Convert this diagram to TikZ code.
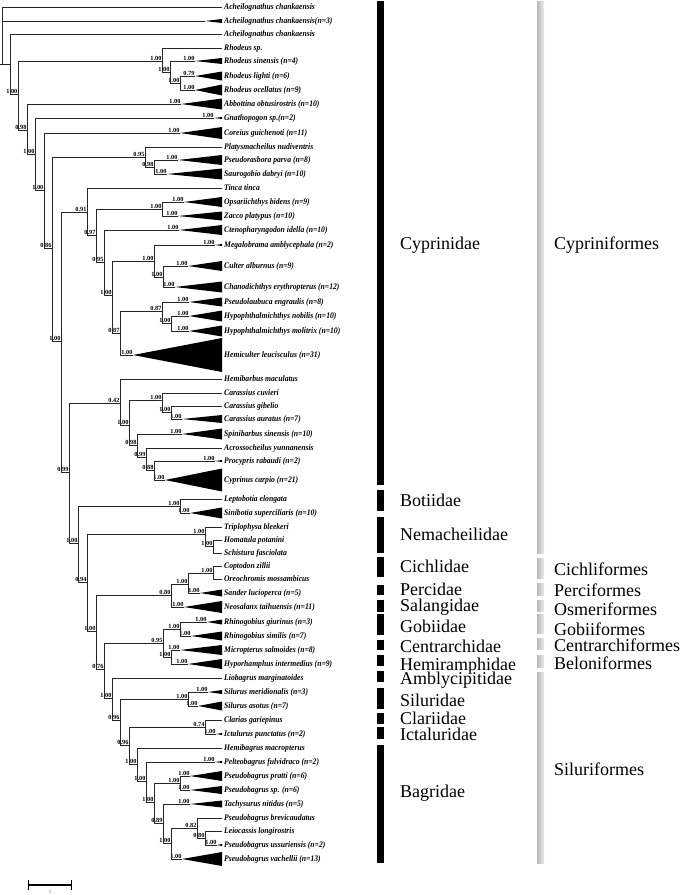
\documentclass[tikz,border=0pt]{standalone}
\usepackage{fontspec}
\setmainfont{Liberation Serif}
\newfontfamily\taxfont[FakeStretch=0.9]{Liberation Serif}
\begin{document}
\begin{tikzpicture}[x=1pt,y=-1pt,
  br/.style={line width=0.9pt, black!85},
  taxon/.style={anchor=west, inner xsep=2pt, inner ysep=0pt, text height=5.7pt, text depth=0.6pt, font=\fontsize{8.5}{9}\selectfont\taxfont\bfseries\itshape},
  supp/.style={anchor=south east, inner sep=0.4pt, font=\fontsize{6.3}{6.5}\selectfont\bfseries},
  fambar/.style={fill=black},
  ordbar/.style={left color=gray!55, right color=gray!15},
  grp/.style={anchor=base west, inner sep=0pt, font=\fontsize{18}{20}\selectfont}]
\useasboundingbox (0,0) rectangle (685,895);

\node[taxon] (t1) at (222,7) {Acheilognathus chankaensis};
\node[taxon] (t2) at (222,21) {Acheilognathus chankaensis(n=3)};
\coordinate (a2) at (205,21);
\fill (a2) -- ([yshift=2pt]t2.west) -- ([yshift=-2pt]t2.west) -- cycle;
\node[taxon] (t3) at (222,34) {Acheilognathus chankaensis};
\node[taxon] (t4) at (222,48) {Rhodeus sp.};
\node[taxon] (t5) at (222,61) {Rhodeus sinensis (n=4)};
\coordinate (a5) at (195,61); \node[supp] (a5l) at (a5) {1.00};
\fill (a5) -- ([yshift=3pt]t5.west) -- ([yshift=-3pt]t5.west) -- cycle;
\node[taxon] (t6) at (222,76) {Rhodeus lighti (n=6)};
\coordinate (a6) at (195,76); \node[supp] (a6l) at (a6) {0.79};
\fill (a6) -- ([yshift=4.5pt]t6.west) -- ([yshift=-4.5pt]t6.west) -- cycle;
\node[taxon] (t7) at (222,90) {Rhodeus ocellatus (n=9)};
\coordinate (a7) at (195,90); \node[supp] (a7l) at (a7) {1.00};
\fill (a7) -- ([yshift=5.5pt]t7.west) -- ([yshift=-5.5pt]t7.west) -- cycle;
\node[taxon] (t8) at (222,104) {Abbottina obtusirostris (n=10)};
\coordinate (a8) at (181,104); \node[supp] (a8l) at (a8) {1.00};
\fill (a8) -- ([yshift=5.5pt]t8.west) -- ([yshift=-5.5pt]t8.west) -- cycle;
\node[taxon] (t9) at (222,118) {Gnathopogon sp.(n=2)};
\coordinate (a9) at (214,118); \node[supp] (a9l) at (a9) {1.00};
\fill (a9) -- ([yshift=1pt]t9.west) -- ([yshift=-1pt]t9.west) -- cycle;
\node[taxon] (t10) at (222,133) {Coreius guichenoti (n=11)};
\coordinate (a10) at (180,133); \node[supp] (a10l) at (a10) {1.00};
\fill (a10) -- ([yshift=6pt]t10.west) -- ([yshift=-6pt]t10.west) -- cycle;
\node[taxon] (t11) at (222,147) {Platysmacheilus nudiventris};
\node[taxon] (t12) at (222,160) {Pseudorasbora parva (n=8)};
\coordinate (a12) at (178,160); \node[supp] (a12l) at (a12) {1.00};
\fill (a12) -- ([yshift=5pt]t12.west) -- ([yshift=-5pt]t12.west) -- cycle;
\node[taxon] (t13) at (222,174) {Saurogobio dabryi (n=10)};
\coordinate (a13) at (167,174); \node[supp] (a13l) at (a13) {1.00};
\fill (a13) -- ([yshift=5.5pt]t13.west) -- ([yshift=-5.5pt]t13.west) -- cycle;
\node[taxon] (t14) at (222,188) {Tinca tinca};
\node[taxon] (t15) at (222,202) {Opsariichthys bidens (n=9)};
\coordinate (a15) at (184,202); \node[supp] (a15l) at (a15) {1.00};
\fill (a15) -- ([yshift=5pt]t15.west) -- ([yshift=-5pt]t15.west) -- cycle;
\node[taxon] (t16) at (222,216) {Zacco platypus (n=10)};
\coordinate (a16) at (178,216); \node[supp] (a16l) at (a16) {1.00};
\fill (a16) -- ([yshift=4.5pt]t16.west) -- ([yshift=-4.5pt]t16.west) -- cycle;
\node[taxon] (t17) at (222,230) {Ctenopharyngodon idella (n=10)};
\coordinate (a17) at (179,230); \node[supp] (a17l) at (a17) {1.00};
\fill (a17) -- ([yshift=5pt]t17.west) -- ([yshift=-5pt]t17.west) -- cycle;
\node[taxon] (t18) at (222,245) {Megalobrama amblycephala (n=2)};
\coordinate (a18) at (215,245); \node[supp] (a18l) at (a18) {1.00};
\fill (a18) -- ([yshift=1pt]t18.west) -- ([yshift=-1pt]t18.west) -- cycle;
\node[taxon] (t19) at (222,266) {Culter alburnus (n=9)};
\coordinate (a19) at (188,266); \node[supp] (a19l) at (a19) {1.00};
\fill (a19) -- ([yshift=5pt]t19.west) -- ([yshift=-5pt]t19.west) -- cycle;
\node[taxon] (t20) at (222,287) {Chanodichthys erythropterus (n=12)};
\coordinate (a20) at (175,287); \node[supp] (a20l) at (a20) {1.00};
\fill (a20) -- ([yshift=5.5pt]t20.west) -- ([yshift=-5.5pt]t20.west) -- cycle;
\node[taxon] (t21) at (222,302) {Pseudolaubuca engraulis (n=8)};
\coordinate (a21) at (189,302); \node[supp] (a21l) at (a21) {1.00};
\fill (a21) -- ([yshift=4.5pt]t21.west) -- ([yshift=-4.5pt]t21.west) -- cycle;
\node[taxon] (t22) at (222,316) {Hypophthalmichthys nobilis (n=10)};
\coordinate (a22) at (189,316); \node[supp] (a22l) at (a22) {1.00};
\fill (a22) -- ([yshift=5.5pt]t22.west) -- ([yshift=-5.5pt]t22.west) -- cycle;
\node[taxon] (t23) at (222,331) {Hypophthalmichthys molitrix (n=10)};
\coordinate (a23) at (189,331); \node[supp] (a23l) at (a23) {1.00};
\fill (a23) -- ([yshift=5.5pt]t23.west) -- ([yshift=-5.5pt]t23.west) -- cycle;
\node[taxon] (t24) at (222,355) {Hemiculter leucisculus (n=31)};
\coordinate (a24) at (133,355); \node[supp] (a24l) at (a24) {1.00};
\fill (a24) -- ([yshift=17pt]t24.west) -- ([yshift=-17pt]t24.west) -- cycle;
\node[taxon] (t25) at (222,379) {Hemibarbus maculatus};
\node[taxon] (t26) at (222,393) {Carassius cuvieri};
\node[taxon] (t27) at (222,406) {Carassius gibelio};
\node[taxon] (t28) at (222,419) {Carassius auratus (n=7)};
\coordinate (a28) at (182,419); \node[supp] (a28l) at (a28) {1.00};
\fill (a28) -- ([yshift=4pt]t28.west) -- ([yshift=-4pt]t28.west) -- cycle;
\node[taxon] (t29) at (222,434) {Spinibarbus sinensis (n=10)};
\coordinate (a29) at (182,434); \node[supp] (a29l) at (a29) {1.00};
\fill (a29) -- ([yshift=5.5pt]t29.west) -- ([yshift=-5.5pt]t29.west) -- cycle;
\node[taxon] (t30) at (222,448) {Acrossocheilus yunnanensis};
\node[taxon] (t31) at (222,461) {Procypris rabaudi (n=2)};
\coordinate (a31) at (215,461); \node[supp] (a31l) at (a31) {1.00};
\fill (a31) -- ([yshift=1pt]t31.west) -- ([yshift=-1pt]t31.west) -- cycle;
\node[taxon] (t32) at (222,480) {Cyprinus carpio (n=21)};
\coordinate (a32) at (165,480); \node[supp] (a32l) at (a32) {1.00};
\fill (a32) -- ([yshift=11.5pt]t32.west) -- ([yshift=-11.5pt]t32.west) -- cycle;
\node[taxon] (t33) at (222,499) {Leptobotia elongata};
\node[taxon] (t34) at (222,513) {Sinibotia superciliaris (n=10)};
\coordinate (a34) at (190,513); \node[supp] (a34l) at (a34) {1.00};
\fill (a34) -- ([yshift=5.5pt]t34.west) -- ([yshift=-5.5pt]t34.west) -- cycle;
\node[taxon] (t35) at (222,527) {Triplophysa bleekeri};
\node[taxon] (t36) at (222,540) {Homatula potanini};
\node[taxon] (t37) at (222,553) {Schistura fasciolata};
\node[taxon] (t38) at (222,566) {Coptodon zillii};
\node[taxon] (t39) at (222,579) {Oreochromis mossambicus};
\node[taxon] (t40) at (222,593) {Sander lucioperca (n=5)};
\coordinate (a40) at (200,593); \node[supp] (a40l) at (a40) {1.00};
\fill (a40) -- ([yshift=3.5pt]t40.west) -- ([yshift=-3.5pt]t40.west) -- cycle;
\node[taxon] (t41) at (222,607) {Neosalanx taihuensis (n=11)};
\coordinate (a41) at (184,607); \node[supp] (a41l) at (a41) {1.00};
\fill (a41) -- ([yshift=6pt]t41.west) -- ([yshift=-6pt]t41.west) -- cycle;
\node[taxon] (t42) at (222,622) {Rhinogobius giurinus (n=3)};
\coordinate (a42) at (207,622); \node[supp] (a42l) at (a42) {1.00};
\fill (a42) -- ([yshift=2.5pt]t42.west) -- ([yshift=-2.5pt]t42.west) -- cycle;
\node[taxon] (t43) at (222,636) {Rhinogobius similis (n=7)};
\coordinate (a43) at (191,636); \node[supp] (a43l) at (a43) {1.00};
\fill (a43) -- ([yshift=4.5pt]t43.west) -- ([yshift=-4.5pt]t43.west) -- cycle;
\node[taxon] (t44) at (222,650) {Micropterus salmoides (n=8)};
\coordinate (a44) at (180,650); \node[supp] (a44l) at (a44) {1.00};
\fill (a44) -- ([yshift=5pt]t44.west) -- ([yshift=-5pt]t44.west) -- cycle;
\node[taxon] (t45) at (222,664) {Hyporhamphus intermedius (n=9)};
\coordinate (a45) at (188,664); \node[supp] (a45l) at (a45) {1.00};
\fill (a45) -- ([yshift=5pt]t45.west) -- ([yshift=-5pt]t45.west) -- cycle;
\node[taxon] (t46) at (222,678) {Liobagrus marginatoides};
\node[taxon] (t47) at (222,692) {Silurus meridionalis (n=3)};
\coordinate (a47) at (208,692); \node[supp] (a47l) at (a47) {1.00};
\fill (a47) -- ([yshift=2pt]t47.west) -- ([yshift=-2pt]t47.west) -- cycle;
\node[taxon] (t48) at (222,706) {Silurus asotus (n=7)};
\coordinate (a48) at (198,706); \node[supp] (a48l) at (a48) {1.00};
\fill (a48) -- ([yshift=4.5pt]t48.west) -- ([yshift=-4.5pt]t48.west) -- cycle;
\node[taxon] (t49) at (222,720) {Clarias gariepinus};
\node[taxon] (t50) at (222,734) {Ictalurus punctatus (n=2)};
\coordinate (a50) at (216,734); \node[supp] (a50l) at (a50) {1.00};
\fill (a50) -- ([yshift=1pt]t50.west) -- ([yshift=-1pt]t50.west) -- cycle;
\node[taxon] (t51) at (222,748) {Hemibagrus macropterus};
\node[taxon] (t52) at (222,762) {Pelteobagrus fulvidraco (n=2)};
\coordinate (a52) at (215,762); \node[supp] (a52l) at (a52) {1.00};
\fill (a52) -- ([yshift=1pt]t52.west) -- ([yshift=-1pt]t52.west) -- cycle;
\node[taxon] (t53) at (222,776) {Pseudobagrus pratti (n=6)};
\coordinate (a53) at (190,776); \node[supp] (a53l) at (a53) {1.00};
\fill (a53) -- ([yshift=5pt]t53.west) -- ([yshift=-5pt]t53.west) -- cycle;
\node[taxon] (t54) at (222,790) {Pseudobagrus sp. (n=6)};
\coordinate (a54) at (190,790); \node[supp] (a54l) at (a54) {1.00};
\fill (a54) -- ([yshift=4pt]t54.west) -- ([yshift=-4pt]t54.west) -- cycle;
\node[taxon] (t55) at (222,804) {Tachysurus nitidus (n=5)};
\coordinate (a55) at (190,804); \node[supp] (a55l) at (a55) {1.00};
\fill (a55) -- ([yshift=3.5pt]t55.west) -- ([yshift=-3.5pt]t55.west) -- cycle;
\node[taxon] (t56) at (222,818) {Pseudobagrus brevicaudatus};
\node[taxon] (t57) at (222,831) {Leiocassis longirostris};
\node[taxon] (t58) at (222,845) {Pseudobagrus ussuriensis (n=2)};
\coordinate (a58) at (217,845); \node[supp] (a58l) at (a58) {1.00};
\fill (a58) -- ([yshift=1pt]t58.west) -- ([yshift=-1pt]t58.west) -- cycle;
\node[taxon] (t59) at (222,859) {Pseudobagrus vachellii (n=13)};
\coordinate (a59) at (182,859); \node[supp] (a59l) at (a59) {1.00};
\fill (a59) -- ([yshift=7pt]t59.west) -- ([yshift=-7pt]t59.west) -- cycle;

\coordinate (rt) at (0,64);
\coordinate (r0) at (2,64);
\coordinate (n1) at (10,64);
\coordinate (n2) at (18,94); \node[supp] (n2l) at (n2) {1.00};
\coordinate (rh) at (162,61); \node[supp] (rhl) at (rh) {1.00};
\coordinate (rh2) at (170,72); \node[supp] (rh2l) at (rh2) {1.00};
\coordinate (rh3) at (180,83); \node[supp] (rh3l) at (rh3) {1.00};
\coordinate (n3) at (27,130); \node[supp] (n3l) at (n3) {0.98};
\coordinate (n4) at (35,154); \node[supp] (n4l) at (n4) {1.00};
\coordinate (n5) at (44,190); \node[supp] (n5l) at (n5) {1.00};
\coordinate (n6) at (52,248); \node[supp] (n6l) at (n6) {0.86};
\coordinate (pl1) at (145,157); \node[supp] (pl1l) at (pl1) {0.95};
\coordinate (pl2) at (154,167); \node[supp] (pl2l) at (pl2) {0.98};
\coordinate (n7) at (61,341); \node[supp] (n7l) at (n7) {1.00};
\coordinate (n8) at (87,212); \node[supp] (n8l) at (n8) {0.91};
\coordinate (n8b) at (96,235); \node[supp] (n8bl) at (n8b) {0.97};
\coordinate (op) at (162,209); \node[supp] (opl) at (op) {1.00};
\coordinate (n8c) at (104,262); \node[supp] (n8cl) at (n8c) {0.95};
\coordinate (n8d) at (112,295); \node[supp] (n8dl) at (n8d) {1.00};
\coordinate (mg) at (154,261); \node[supp] (mgl) at (mg) {1.00};
\coordinate (mg2) at (163,277); \node[supp] (mg2l) at (mg2) {1.00};
\coordinate (n8e) at (120,333); \node[supp] (n8el) at (n8e) {0.87};
\coordinate (pq) at (162,311); \node[supp] (pql) at (pq) {0.87};
\coordinate (pq2) at (171,323); \node[supp] (pq2l) at (pq2) {1.00};
\coordinate (n9) at (69,472); \node[supp] (n9l) at (n9) {0.99};
\coordinate (hb) at (120,403); \node[supp] (hbl) at (hb) {0.42};
\coordinate (hb2) at (129,425); \node[supp] (hb2l) at (hb2) {1.00};
\coordinate (ca) at (162,400); \node[supp] (cal) at (ca) {1.00};
\coordinate (ca2) at (171,412); \node[supp] (ca2l) at (ca2) {1.00};
\coordinate (hb3) at (137,445); \node[supp] (hb3l) at (hb3) {0.98};
\coordinate (hb4) at (146,457); \node[supp] (hb4l) at (hb4) {0.99};
\coordinate (hb5) at (154,470); \node[supp] (hb5l) at (hb5) {0.88};
\coordinate (n10) at (78,543); \node[supp] (n10l) at (n10) {1.00};
\coordinate (bo) at (180,506); \node[supp] (bol) at (bo) {1.00};
\coordinate (n11) at (87,582); \node[supp] (n11l) at (n11) {0.94};
\coordinate (ne) at (205,534); \node[supp] (nel) at (ne) {1.00};
\coordinate (ne2) at (213,546); \node[supp] (ne2l) at (ne2) {1.00};
\coordinate (n12) at (96,631); \node[supp] (n12l) at (n12) {1.00};
\coordinate (pc) at (171,595); \node[supp] (pcl) at (pc) {0.80};
\coordinate (pc2) at (188,584); \node[supp] (pc2l) at (pc2) {1.00};
\coordinate (ci) at (213,573); \node[supp] (cil) at (ci) {1.00};
\coordinate (n13) at (104,669); \node[supp] (n13l) at (n13) {0.76};
\coordinate (gb) at (163,643); \node[supp] (gbl) at (gb) {0.95};
\coordinate (gb1) at (180,629); \node[supp] (gb1l) at (gb1) {1.00};
\coordinate (gb2) at (171,657); \node[supp] (gb2l) at (gb2) {1.00};
\coordinate (n14) at (112,698); \node[supp] (n14l) at (n14) {1.00};
\coordinate (n15) at (120,720); \node[supp] (n15l) at (n15) {0.96};
\coordinate (si) at (188,699); \node[supp] (sil) at (si) {1.00};
\coordinate (n16) at (129,745); \node[supp] (n16l) at (n16) {0.96};
\coordinate (cl) at (205,727); \node[supp] (cll) at (cl) {0.74};
\coordinate (n17) at (137,764); \node[supp] (n17l) at (n17) {1.00};
\coordinate (n18) at (146,781); \node[supp] (n18l) at (n18) {1.00};
\coordinate (n19) at (154,802); \node[supp] (n19l) at (n19) {1.00};
\coordinate (pb) at (180,783); \node[supp] (pbl) at (pb) {1.00};
\coordinate (n20) at (163,823); \node[supp] (n20l) at (n20) {0.89};
\coordinate (n21) at (171,843); \node[supp] (n21l) at (n21) {1.00};
\coordinate (n22) at (197,828); \node[supp] (n22l) at (n22) {0.82};
\coordinate (n23) at (205,838); \node[supp] (n23l) at (n23) {0.80};

\draw[br] (rt) -- (r0) (r0) |- (t1.west) (r0) |- (a2) (r0) -- (n1);
\draw[br] (n1) |- (t3.west) (n1) |- (n2);
\draw[br] (n2) |- (rh) (n2) |- (n3);
\draw[br] (rh) |- (t4.west) (rh) |- (rh2);
\draw[br] (rh2) |- (a5) (rh2) |- (rh3);
\draw[br] (rh3) |- (a6) (rh3) |- (a7);
\draw[br] (n3) |- (a8) (n3) |- (n4);
\draw[br] (n4) |- (a9) (n4) |- (n5);
\draw[br] (n5) |- (a10) (n5) |- (n6);
\draw[br] (n6) |- (pl1) (n6) |- (n7);
\draw[br] (pl1) |- (t11.west) (pl1) |- (pl2);
\draw[br] (pl2) |- (a12) (pl2) |- (a13);
\draw[br] (n7) |- (n8) (n7) |- (n9);
\draw[br] (n8) |- (t14.west) (n8) |- (n8b);
\draw[br] (n8b) |- (op) (n8b) |- (n8c);
\draw[br] (op) |- (a15) (op) |- (a16);
\draw[br] (n8c) |- (a17) (n8c) |- (n8d);
\draw[br] (n8d) |- (mg) (n8d) |- (n8e);
\draw[br] (mg) |- (a18) (mg) |- (mg2);
\draw[br] (mg2) |- (a19) (mg2) |- (a20);
\draw[br] (n8e) |- (pq) (n8e) |- (a24);
\draw[br] (pq) |- (a21) (pq) |- (pq2);
\draw[br] (pq2) |- (a22) (pq2) |- (a23);
\draw[br] (n9) |- (hb) (n9) |- (n10);
\draw[br] (hb) |- (t25.west) (hb) |- (hb2);
\draw[br] (hb2) |- (ca) (hb2) |- (hb3);
\draw[br] (ca) |- (t26.west) (ca) |- (ca2);
\draw[br] (ca2) |- (t27.west) (ca2) |- (a28);
\draw[br] (hb3) |- (a29) (hb3) |- (hb4);
\draw[br] (hb4) |- (t30.west) (hb4) |- (hb5);
\draw[br] (hb5) |- (a31) (hb5) |- (a32);
\draw[br] (n10) |- (bo) (n10) |- (n11);
\draw[br] (bo) |- (t33.west) (bo) |- (a34);
\draw[br] (n11) |- (ne) (n11) |- (n12);
\draw[br] (ne) |- (t35.west) (ne) |- (ne2);
\draw[br] (ne2) |- (t36.west) (ne2) |- (t37.west);
\draw[br] (n12) |- (pc) (n12) |- (n13);
\draw[br] (pc) |- (pc2) (pc) |- (a41);
\draw[br] (pc2) |- (ci) (pc2) |- (a40);
\draw[br] (ci) |- (t38.west) (ci) |- (t39.west);
\draw[br] (n13) |- (gb) (n13) |- (n14);
\draw[br] (gb) |- (gb1) (gb) |- (gb2);
\draw[br] (gb1) |- (a42) (gb1) |- (a43);
\draw[br] (gb2) |- (a44) (gb2) |- (a45);
\draw[br] (n14) |- (t46.west) (n14) |- (n15);
\draw[br] (n15) |- (si) (n15) |- (n16);
\draw[br] (si) |- (a47) (si) |- (a48);
\draw[br] (n16) |- (cl) (n16) |- (n17);
\draw[br] (cl) |- (t49.west) (cl) |- (a50);
\draw[br] (n17) |- (t51.west) (n17) |- (n18);
\draw[br] (n18) |- (a52) (n18) |- (n19);
\draw[br] (n19) |- (pb) (n19) |- (n20);
\draw[br] (pb) |- (a53) (pb) |- (a54);
\draw[br] (n20) |- (a55) (n20) |- (n21);
\draw[br] (n21) |- (n22) (n21) |- (a59);
\draw[br] (n22) |- (t56.west) (n22) |- (n23);
\draw[br] (n23) |- (t57.west) (n23) |- (a58);

\fill[fambar] (377,1) rectangle (384,485);
\fill[fambar] (377,490) rectangle (384,511);
\fill[fambar] (377,517) rectangle (384,553);
\fill[fambar] (377,557) rectangle (384,577);
\fill[fambar] (377,585) rectangle (384,595);
\fill[fambar] (377,600) rectangle (384,612);
\fill[fambar] (377,614) rectangle (384,635);
\fill[fambar] (377,640) rectangle (384,650);
\fill[fambar] (377,655) rectangle (384,666);
\fill[fambar] (377,671) rectangle (384,682);
\fill[fambar] (377,688) rectangle (384,709);
\fill[fambar] (377,713) rectangle (384,724);
\fill[fambar] (377,727) rectangle (384,739);
\fill[fambar] (377,745) rectangle (384,863);
\node[grp] (fcyp) at (400,249) {Cyprinidae};
\node[grp] (fbot) at (400,506) {Botiidae};
\node[grp] (fnem) at (400,540) {Nemacheilidae};
\node[grp] (fcic) at (400,572) {Cichlidae};
\node[grp] (fper) at (400,595) {Percidae};
\node[grp] (fsal) at (400,611) {Salangidae};
\node[grp] (fgob) at (400,632) {Gobiidae};
\node[grp] (fcen) at (400,652) {Centrarchidae};
\node[grp] (fhem) at (400,670) {Hemiramphidae};
\node[grp] (famb) at (400,684) {Amblycipitidae};
\node[grp] (fsil) at (400,706) {Siluridae};
\node[grp] (fcla) at (400,724) {Clariidae};
\node[grp] (fict) at (400,740) {Ictaluridae};
\node[grp] (fbag) at (400,797) {Bagridae};

\shade[ordbar] (537,1) rectangle (544,553);
\shade[ordbar] (537,558) rectangle (544,578);
\shade[ordbar] (537,583) rectangle (544,595);
\shade[ordbar] (537,600) rectangle (544,611);
\shade[ordbar] (537,614) rectangle (544,633);
\shade[ordbar] (537,638) rectangle (544,649);
\shade[ordbar] (537,655) rectangle (544,667);
\shade[ordbar] (537,672) rectangle (544,863);
\node[grp] (ocyp) at (554,249) {Cypriniformes};
\node[grp] (ocic) at (554,575) {Cichliformes};
\node[grp] (oper) at (554,596) {Perciformes};
\node[grp] (oosm) at (554,615) {Osmeriformes};
\node[grp] (ogob) at (554,635) {Gobiiformes};
\node[grp] (ocen) at (554,651) {Centrarchiformes};
\node[grp] (obel) at (554,669) {Beloniformes};
\node[grp] (osil) at (554,775) {Siluriformes};

\coordinate (sb1) at (28,885);
\coordinate (sb2) at (72,885);
\draw[line width=1.3pt, |-|] (sb1) -- (sb2);
\node[font=\fontsize{5}{5}\selectfont, text=gray, inner sep=0pt] (sbl) at (50,892) {5};
\end{tikzpicture}
\end{document}
